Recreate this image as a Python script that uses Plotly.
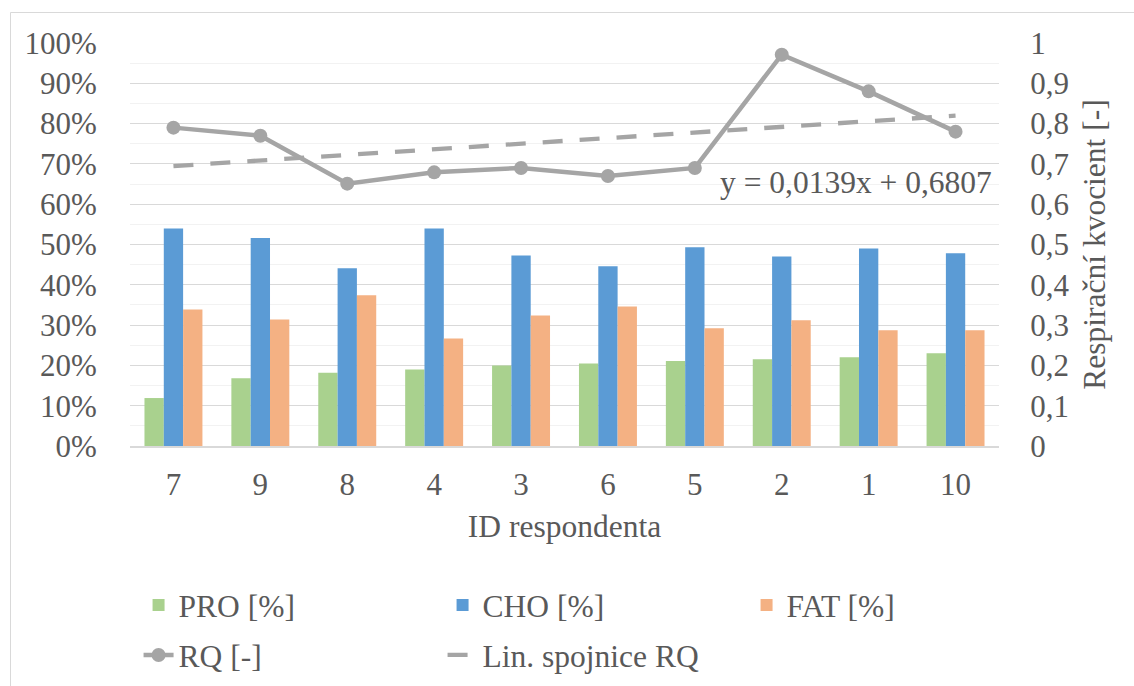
import numpy as np
import plotly.graph_objects as go

# ---- data ----
respondents = ["7", "9", "8", "4", "3", "6", "5", "2", "1", "10"]
pro = [0.119, 0.168, 0.182, 0.190, 0.200, 0.205, 0.211, 0.215, 0.220, 0.230]
cho = [0.540, 0.516, 0.441, 0.540, 0.473, 0.446, 0.493, 0.470, 0.490, 0.478]
fat = [0.339, 0.314, 0.374, 0.267, 0.324, 0.346, 0.292, 0.312, 0.287, 0.287]
rq = [0.790, 0.770, 0.651, 0.679, 0.690, 0.670, 0.690, 0.971, 0.880, 0.780]
trend_label = "y = 0,0139x + 0,6807"

# linear trend fitted through RQ over category positions 1..n
pos = np.arange(1, len(rq) + 1)
slope, intercept = np.polyfit(pos, rq, 1)
trend = slope * pos + intercept

FONT = "Liberation Serif"
TXT = "#595959"
GREY = "#A5A5A5"
FS = 31
FS_T = 31.5

W, H = 1134, 686
L, R, T, B = 130, 135, 43, 240
PW, PH = W - L - R, H - T - B


def px_x(x):
    return (x - L) / PW


def px_y(y):
    return (H - B - y) / PH


fig = go.Figure()
fig.add_trace(go.Bar(x=respondents, y=pro, name="PRO [%]", marker_color="#A9D18E",
                     marker_line_width=0, legend="legend"))
fig.add_trace(go.Bar(x=respondents, y=cho, name="CHO [%]", marker_color="#5B9BD5",
                     marker_line_width=0, legend="legend"))
fig.add_trace(go.Bar(x=respondents, y=fat, name="FAT [%]", marker_color="#F4B183",
                     marker_line_width=0, legend="legend"))
fig.add_trace(go.Scatter(x=respondents, y=rq, name="RQ [-]", yaxis="y2", mode="lines+markers",
                         line=dict(color=GREY, width=4.5), marker=dict(color=GREY, size=14),
                         legend="legend2"))
fig.add_trace(go.Scatter(x=respondents, y=trend, name="Lin. spojnice RQ", yaxis="y2", mode="lines",
                         line=dict(color=GREY, width=4.3, dash="20px,17px"), legend="legend2"))

legend_common = dict(orientation="h", xanchor="left", x=-0.0005, yanchor="middle",
                     font=dict(family=FONT, size=FS_T, color=TXT), bgcolor="rgba(0,0,0,0)",
                     entrywidth=250, entrywidthmode="pixels", indentation=9,
                     traceorder="normal", itemclick=False, itemdoubleclick=False)

fig.update_layout(
    width=W, height=H,
    margin=dict(l=L, r=R, t=T, b=B, autoexpand=False),
    paper_bgcolor="white", plot_bgcolor="white",
    separators=", ",
    font=dict(family=FONT, size=FS, color=TXT),
    barmode="group", bargap=0.333, bargroupgap=0,
    legend=dict(y=px_y(605), **legend_common),
    legend2=dict(y=px_y(655), **legend_common),
    xaxis=dict(type="category", range=[-0.5, len(respondents) - 0.5], autorange=False,
               showgrid=False, showline=True, linecolor="#D9D9D9", linewidth=2,
               ticks="outside", ticklen=10, tickcolor="rgba(0,0,0,0)",
               tickfont=dict(family=FONT, size=FS, color=TXT),
               title=dict(text="ID respondenta", font=dict(family=FONT, size=FS_T, color=TXT), standoff=14),
               zeroline=False, fixedrange=True),
    yaxis=dict(range=[0, 1], dtick=0.1, tickformat=".0%", showgrid=True, gridcolor="#D9D9D9",
               gridwidth=1, zeroline=False, ticks="outside", ticklen=26,
               tickcolor="rgba(0,0,0,0)", tickfont=dict(family=FONT, size=FS, color=TXT),
               minor=dict(dtick=0.05, showgrid=True, gridcolor="#F2F2F2", gridwidth=1),
               fixedrange=True),
    yaxis2=dict(range=[0, 1], dtick=0.1, overlaying="y", side="right", showgrid=False,
                zeroline=False, ticks="outside", ticklen=24, tickcolor="rgba(0,0,0,0)",
                tickfont=dict(family=FONT, size=FS, color=TXT),
                title=dict(text="Respirační kvocient [-]", font=dict(family=FONT, size=FS_T, color=TXT),
                           standoff=14),
                fixedrange=True),
    annotations=[dict(text=trend_label, xref="paper", yref="paper", x=px_x(994), y=px_y(183),
                      xanchor="right", yanchor="middle", showarrow=False,
                      font=dict(family=FONT, size=FS_T, color=TXT))],
    shapes=[dict(type="rect", xref="paper", yref="paper", x0=px_x(10.5), x1=px_x(1140),
                 y0=px_y(700), y1=px_y(12.5), line=dict(color="#D9D9D9", width=1),
                 fillcolor="rgba(0,0,0,0)", layer="below")],
)

fig.write_html("out.html", config={"displayModeBar": False})
